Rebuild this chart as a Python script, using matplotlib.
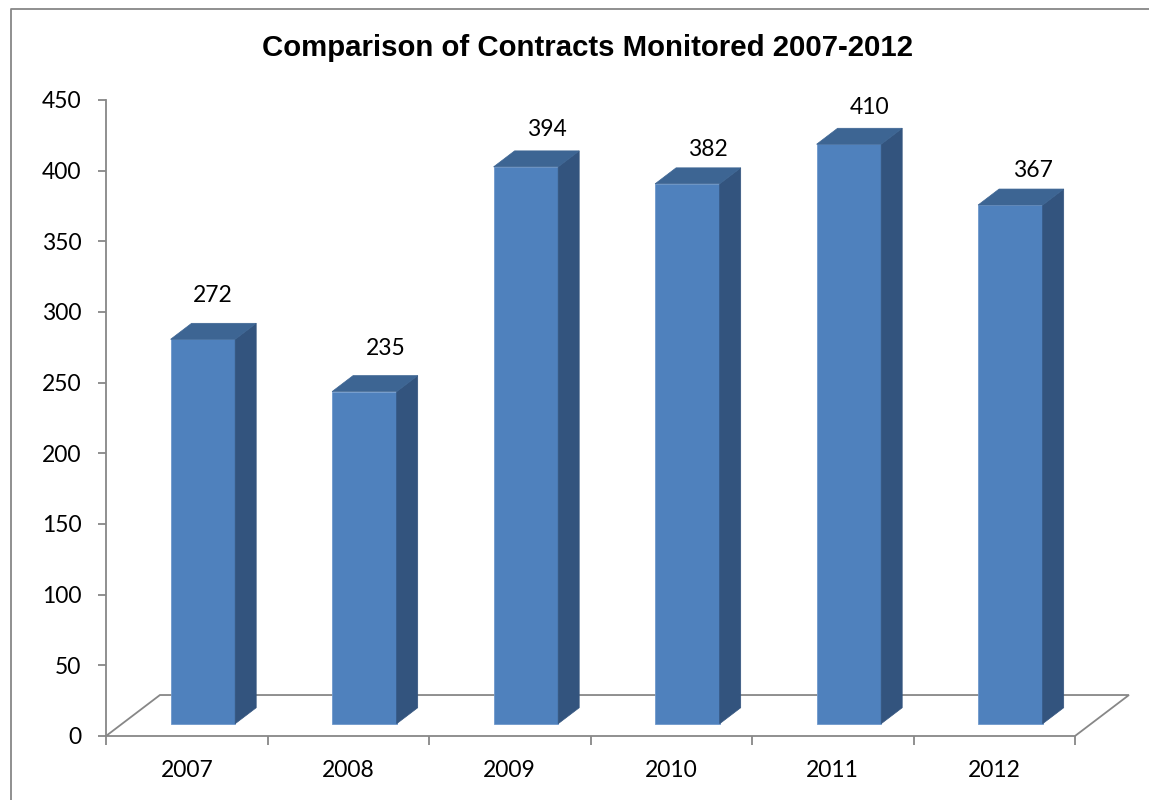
import matplotlib
matplotlib.use("Agg")
import matplotlib.pyplot as plt
from matplotlib.patches import Polygon
from matplotlib.lines import Line2D
import numpy as np

# ---- data ----
categories = ["2007", "2008", "2009", "2010", "2011", "2012"]
values = [272, 235, 394, 382, 410, 367]
yticks = [0, 50, 100, 150, 200, 250, 300, 350, 400, 450]
title = "Comparison of Contracts Monitored 2007-2012"

# ---- style ----
FRONT = "#4F81BD"
SIDE = "#33547E"
TOP = "#3D6593"
GRAY = "#878787"
LABEL_FONT = ["Lato", "DejaVu Sans"]
FS = 16.5
# data-label placement offsets (pixels, relative to centre of bar top face)
label_off_x = [-1, 11, 10.5, 10, 10.5, 12.5]
label_off_y = [28, 27.5, 21, 18.5, 21, 19]

W, H = 1149, 800
fig = plt.figure(figsize=(W / 100, H / 100), dpi=100)
fig.patch.set_facecolor("white")

fig.add_artist(Line2D([11 / W, 11 / W, 1.0], [0.0, 1 - 9 / H, 1 - 9 / H],
                      transform=fig.transFigure, color=GRAY, lw=1.3))

ax = fig.add_axes([106 / W, 64 / H, (1075 - 106) / W, (736 - 100) / H])
ax.set_xlim(-0.5, len(categories) - 0.5)
ax.set_ylim(0, 450)

floor_dx, floor_dy = 0.334, 29.0
fx, fy = 0.1, 8.7
bdx, bdy = 0.13, 11.3
bw = 0.4

n = len(categories)
floor = Polygon([(-0.5, 0), (n - 0.5, 0), (n - 0.5 + floor_dx, floor_dy),
                 (-0.5 + floor_dx, floor_dy)], closed=True,
                facecolor="white", edgecolor=GRAY, lw=1.3, clip_on=False, zorder=1)
ax.add_patch(floor)

x = np.arange(n)
ax.bar(x + fx, values, width=bw, bottom=fy, color=FRONT,
       edgecolor="#6F98CC", linewidth=0.6, zorder=3)
for i, (xi, v) in enumerate(zip(x, values)):
    xl = xi + fx - bw / 2
    xr = xi + fx + bw / 2
    top = fy + v
    side = Polygon([(xr, fy), (xr + bdx, fy + bdy), (xr + bdx, top + bdy), (xr, top)],
                   closed=True, facecolor=SIDE, edgecolor=SIDE, lw=0.5, zorder=3, clip_on=False)
    topf = Polygon([(xl, top), (xr, top), (xr + bdx, top + bdy), (xl + bdx, top + bdy)],
                   closed=True, facecolor=TOP, edgecolor=TOP, lw=0.5, zorder=3, clip_on=False)
    ax.add_patch(side)
    ax.add_patch(topf)
    ax.annotate(str(v), xy=(xi + fx + bdx / 2, top + bdy),
                xytext=(label_off_x[i] * 0.72, label_off_y[i] * 0.72),
                textcoords="offset points", ha="center", va="center",
                fontsize=FS, family=LABEL_FONT, color="black", zorder=4,
                annotation_clip=False)

for s in ["top", "right", "bottom"]:
    ax.spines[s].set_visible(False)
ax.spines["left"].set_color(GRAY)
ax.spines["left"].set_linewidth(1.3)

ax.set_yticks(yticks)
ax.set_yticklabels([str(t) for t in yticks], family=LABEL_FONT, fontsize=FS)
ax.tick_params(axis="y", direction="out", length=5.8, width=1.3, color=GRAY, pad=12)

ax.set_xticks(np.arange(-0.5, n, 1.0))
ax.set_xticklabels([])
ax.set_xticks(x, minor=True)
ax.set_xticklabels(categories, minor=True, family=LABEL_FONT, fontsize=FS)
ax.tick_params(axis="x", which="major", direction="out", length=6.5, width=1.3, color=GRAY)
ax.tick_params(axis="x", which="minor", length=0, pad=17)
ax.patch.set_alpha(0)

fig.text(587 / W, 1 - 56 / H, title, ha="center", va="baseline",
         fontsize=21.2, fontweight="bold", family=["Liberation Sans", "DejaVu Sans"])

fig.savefig("out.png", dpi=100, facecolor="white")
